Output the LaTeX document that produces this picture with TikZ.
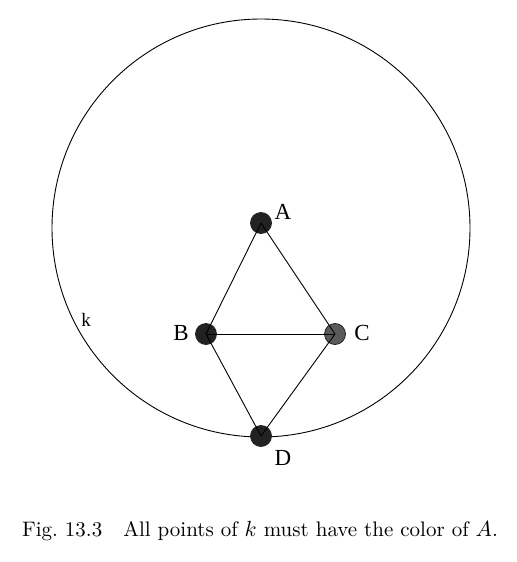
\documentclass[tikz,border=0pt]{standalone}
\usepackage{fontspec}
\usepackage[usenames,dvipsnames]{xcolor}
\usepackage{tikz}
\usetikzlibrary{positioning}
\newfontfamily\ptfont{Liberation Serif}
\definecolor{dotdark}{HTML}{222222}
\definecolor{dotgray}{HTML}{5A5A5A}

\begin{document}
\begin{tikzpicture} [x=0.5pt, y=-0.5pt,
				point/.style={
				% The shape:
				circle,
				% The size:
      				minimum size=10.5pt, inner sep=0pt,
				% The border:
      				draw=dotdark, thin,
      				% The filling:
				fill=dotdark
    				},
				greypoint/.style={
				% The shape:
				circle,
				% The size:
      				minimum size=10.5pt, inner sep=0pt,
				% The border:
      				draw=dotdark, thin,
      				% The filling:
				fill=dotgray
    				},
				ptlabel/.style={
				% Font
				font=\ptfont\fontsize{11.5}{13}\selectfont, inner sep=1pt
    				},
				]
    \useasboundingbox (0,0) rectangle (516,562);
    \tikzstyle{edge} = [draw=black, line width=0.45pt]
    % the circle k
    \draw [line width=0.45pt] (261,228) circle [radius=209];
    \node [font=\ptfont\fontsize{9.5}{11}\selectfont] (klabel) at (86,320) {k};
    % the points
    \node [point] (A) at (261,223) {};
    \node [point] (B) at (206,334) {};
    \node [greypoint] (C) at (335,334) {};
    \node [point] (D) at (261,436) {};
    \node [ptlabel] (Alabel) at (283,212) {A};
    \node [ptlabel] (Blabel) at (181,333) {B};
    \node [ptlabel] (Clabel) at (362,333) {C};
    \node [ptlabel] (Dlabel) at (283,458) {D};
    % the edges
    \path [edge] (A.center) -- (B.center);
    \path [edge] (A.center) -- (C.center);
    \path [edge] (B.center) -- (C.center);
    \path [edge] (B.center) -- (D.center);
    \path [edge] (C.center) -- (D.center);
    % caption
    \node [font=\fontsize{10.5}{12}\selectfont] (caption) at (260,531) {Fig.~13.3\quad All points of $k$ must have the color of $A$.};
\end{tikzpicture}
\end{document}
